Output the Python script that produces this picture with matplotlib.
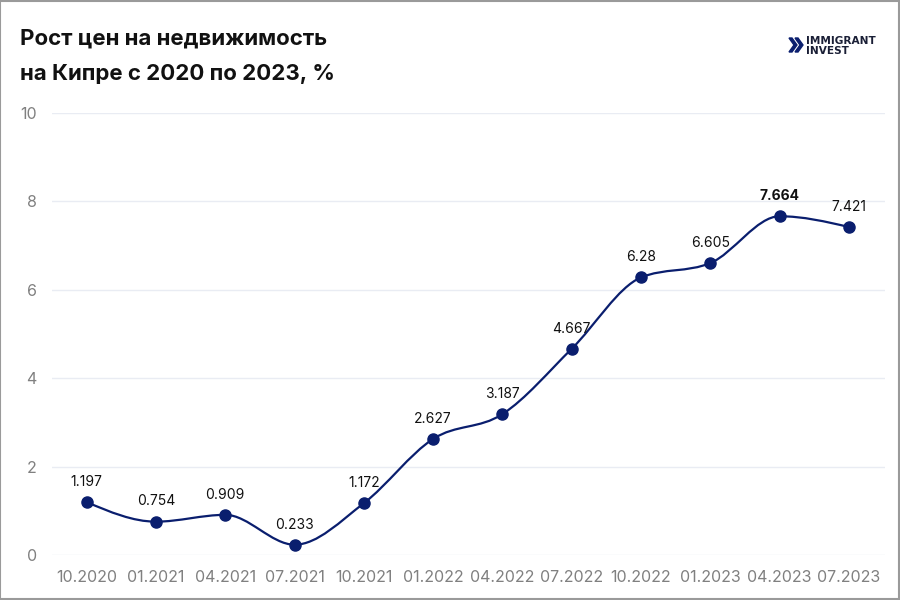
import matplotlib.pyplot as plt
import numpy as np
from matplotlib.path import Path
from matplotlib.patches import PathPatch, Rectangle, Polygon

# данные с графика
periods = ["10.2020", "01.2021", "04.2021", "07.2021", "10.2021", "01.2022",
           "04.2022", "07.2022", "10.2022", "01.2023", "04.2023", "07.2023"]
growth = [1.197, 0.754, 0.909, 0.233, 1.172, 2.627,
          3.187, 4.667, 6.28, 6.605, 7.664, 7.421]
value_labels = ["1.197", "0.754", "0.909", "0.233", "1.172", "2.627",
                "3.187", "4.667", "6.28", "6.605", "7.664", "7.421"]
y_ticks = [0, 2, 4, 6, 8, 10]

NAVY = "#0a1e6e"
GRAY = "#808080"
plt.rcParams["font.family"] = ["Inter", "DejaVu Sans"]


def _monotone_path(xs, ys):
    """Кривая как d3.curveMonotoneX: кубические Безье между точками."""
    xs = np.asarray(xs, float)
    ys = np.asarray(ys, float)
    n = len(xs)
    h = np.diff(xs)
    s = np.diff(ys) / h
    t = np.zeros(n)
    for i in range(1, n - 1):
        p = (s[i - 1] * h[i] + s[i] * h[i - 1]) / (h[i - 1] + h[i])
        t[i] = (np.sign(s[i - 1]) + np.sign(s[i])) * min(abs(s[i - 1]), abs(s[i]), 0.5 * abs(p))
    t[0] = (3 * s[0] - t[1]) / 2
    t[-1] = (3 * s[-1] - t[-2]) / 2
    verts = [(xs[0], ys[0])]
    codes = [Path.MOVETO]
    for i in range(n - 1):
        dx = h[i] / 3
        verts += [(xs[i] + dx, ys[i] + dx * t[i]),
                  (xs[i + 1] - dx, ys[i + 1] - dx * t[i + 1]),
                  (xs[i + 1], ys[i + 1])]
        codes += [Path.CURVE4] * 3
    return Path(verts, codes)


fig = plt.figure(figsize=(9, 6), dpi=100)
ax = fig.add_axes([52 / 900, 45 / 600, 833 / 900, 442 / 600])

x = np.arange(len(periods))
ax.add_patch(PathPatch(_monotone_path(x, growth), facecolor="none", edgecolor=NAVY, lw=1.6, zorder=3))
ax.plot(x, growth, "o", color=NAVY, ms=8, zorder=4, clip_on=False)

for xi, yi, lab in zip(x, growth, value_labels):
    ax.annotate(lab, (xi, yi), xytext=(0, 9.5), textcoords="offset points",
                ha="center", va="bottom", fontsize=10, color="#111111",
                fontweight="bold" if lab == "7.664" else "normal")

ax.set_xlim(-0.5, 11.52)
ax.set_ylim(0, 10)
ax.set_yticks(y_ticks)
ax.set_xticks(x)
ax.set_xticklabels(periods)
ax.tick_params(length=0, colors=GRAY, labelsize=11.5)
ax.tick_params(axis="x", pad=11)
ax.tick_params(axis="y", pad=11)
ax.grid(axis="y", color="#e9ecf3", lw=1)
ax.set_axisbelow(True)
for sp in ax.spines.values():
    sp.set_visible(False)

fig.text(20 / 900, 1 - 38 / 600, "Рост цен на недвижимость", fontsize=16, fontweight="bold",
         va="center", color="#111111")
fig.text(20 / 900, 1 - 74 / 600, "на Кипре с 2020 по 2023, %", fontsize=16, fontweight="bold",
         va="center", color="#111111")

# логотип
fig.text(806 / 900, 1 - 44 / 600, "IMMIGRANT", fontsize=7.6, fontweight="bold", color="#1a1f36",
         va="baseline", family="DejaVu Sans")
fig.text(806 / 900, 1 - 54 / 600, "INVEST", fontsize=7.6, fontweight="bold", color="#1a1f36",
         va="baseline", family="DejaVu Sans")
for off in (0, 6):
    x0 = 789 + off
    pts = [(x0, 38), (x0 + 3, 38), (x0 + 8, 45), (x0 + 3, 52), (x0, 52), (x0 + 5, 45)]
    fig.patches.append(Polygon([(px / 900, 1 - py / 600) for px, py in pts], closed=True,
                               transform=fig.transFigure, color=NAVY))

fig.patches.append(Rectangle((0.0005, 0.001), 0.998, 0.998, transform=fig.transFigure,
                             fill=False, edgecolor="#9a9a9a", lw=1.5))

fig.savefig("out.png", dpi=100)
